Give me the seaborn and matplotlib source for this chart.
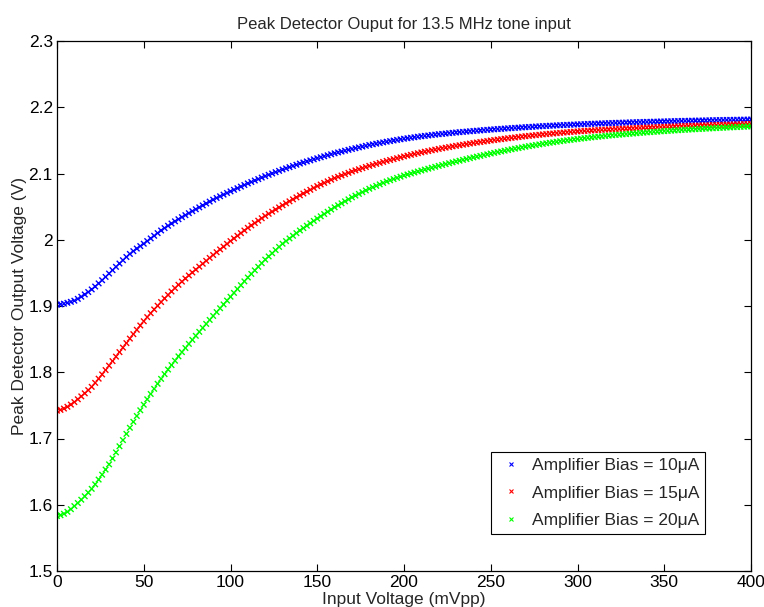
import numpy as np
import pandas as pd
import matplotlib
matplotlib.use("Agg")
import matplotlib.pyplot as plt
from matplotlib.lines import Line2D
import seaborn as sns

# Input amplitude sweep, 0 to 400 mVpp in 2 mV steps
input_mvpp = list(range(0, 401, 2))

# Peak detector output (V) for each amplifier bias current
bias_10uA = [
    1.902, 1.9025, 1.9035, 1.9048, 1.9063, 1.908,
    1.9108, 1.914, 1.9174, 1.9211, 1.925,
    1.9294, 1.9341, 1.9389, 1.9439, 1.949,
    1.9541, 1.9591, 1.9641, 1.9691, 1.974,
    1.9786, 1.9828, 1.9867, 1.9904, 1.994,
    1.998, 2.002, 2.006, 2.010, 2.014,
    2.0176, 2.0211, 2.0245, 2.0278, 2.031,
    2.0341, 2.0371, 2.0401, 2.0431, 2.046,
    2.0489, 2.0518, 2.0547, 2.0576, 2.0605,
    2.0631, 2.0656, 2.0681, 2.0706, 2.073,
    2.0754, 2.0778, 2.0802, 2.0826, 2.085,
    2.0872, 2.0894, 2.0916, 2.0938, 2.096,
    2.098, 2.100, 2.102, 2.104, 2.106,
    2.1078, 2.1096, 2.1114, 2.1132, 2.115,
    2.1166, 2.1182, 2.1198, 2.1214, 2.123,
    2.1245, 2.126, 2.1275, 2.129, 2.1305,
    2.1318, 2.1331, 2.1344, 2.1357, 2.137,
    2.1382, 2.1394, 2.1406, 2.1418, 2.143,
    2.144, 2.145, 2.146, 2.147, 2.148,
    2.1489, 2.1498, 2.1507, 2.1516, 2.1525,
    2.1532, 2.154, 2.1547, 2.1555, 2.1562,
    2.1568, 2.1574, 2.1581, 2.1587, 2.1593,
    2.1598, 2.1603, 2.1609, 2.1614, 2.1619,
    2.1624, 2.1628, 2.1633, 2.1637, 2.1642,
    2.1646, 2.165, 2.1655, 2.1659, 2.1663,
    2.1667, 2.1671, 2.1674, 2.1678, 2.1682,
    2.1685, 2.1689, 2.1692, 2.1696, 2.1699,
    2.1702, 2.1705, 2.1709, 2.1712, 2.1715,
    2.1718, 2.1721, 2.1723, 2.1726, 2.1729,
    2.1731, 2.1734, 2.1736, 2.1739, 2.1741,
    2.1743, 2.1745, 2.1748, 2.175, 2.1752,
    2.1754, 2.1756, 2.1758, 2.176, 2.1762,
    2.1764, 2.1766, 2.1767, 2.1769, 2.1771,
    2.1773, 2.1774, 2.1776, 2.1777, 2.1779,
    2.178, 2.1782, 2.1783, 2.1785, 2.1786,
    2.1787, 2.1789, 2.179, 2.1792, 2.1793,
    2.1794, 2.1795, 2.1797, 2.1798, 2.1799,
    2.18, 2.1801, 2.1803, 2.1804, 2.1805,
    2.1806, 2.1807, 2.1808, 2.1809, 2.181,
    2.1811, 2.1812, 2.1813, 2.1814, 2.1815,
]

bias_15uA = [
    1.742, 1.7432, 1.7452, 1.7479, 1.7512, 1.755,
    1.7592, 1.7636, 1.7682, 1.773, 1.778,
    1.784, 1.7903, 1.7967, 1.8033, 1.810,
    1.8168, 1.8236, 1.8304, 1.8372, 1.844,
    1.8508, 1.8575, 1.8641, 1.8706, 1.877,
    1.8832, 1.8891, 1.8948, 1.9004, 1.906,
    1.9114, 1.9167, 1.9219, 1.927, 1.932,
    1.9368, 1.9415, 1.9461, 1.9506, 1.955,
    1.9594, 1.9638, 1.9682, 1.9726, 1.977,
    1.9812, 1.9854, 1.9896, 1.9938, 1.998,
    2.002, 2.006, 2.010, 2.014, 2.018,
    2.0216, 2.0252, 2.0288, 2.0324, 2.036,
    2.0392, 2.0424, 2.0456, 2.0488, 2.052,
    2.055, 2.058, 2.061, 2.064, 2.067,
    2.0698, 2.0726, 2.0754, 2.0782, 2.081,
    2.0834, 2.0858, 2.0882, 2.0906, 2.093,
    2.095, 2.097, 2.099, 2.101, 2.103,
    2.1047, 2.1064, 2.1081, 2.1098, 2.1115,
    2.113, 2.1145, 2.116, 2.1175, 2.119,
    2.1204, 2.1217, 2.1231, 2.1244, 2.1258,
    2.127, 2.1282, 2.1294, 2.1306, 2.1318,
    2.1329, 2.1339, 2.135, 2.136, 2.1371,
    2.1381, 2.139, 2.1399, 2.1409, 2.1418,
    2.1426, 2.1435, 2.1443, 2.1452, 2.146,
    2.1468, 2.1475, 2.1483, 2.149, 2.1498,
    2.1505, 2.1512, 2.1518, 2.1525, 2.1532,
    2.1538, 2.1544, 2.1551, 2.1557, 2.1563,
    2.1568, 2.1574, 2.1579, 2.1585, 2.159,
    2.1595, 2.16, 2.1604, 2.1609, 2.1614,
    2.1618, 2.1622, 2.1627, 2.1631, 2.1635,
    2.1639, 2.1642, 2.1646, 2.1649, 2.1653,
    2.1656, 2.1659, 2.1662, 2.1665, 2.1668,
    2.1671, 2.1673, 2.1676, 2.1678, 2.1681,
    2.1683, 2.1686, 2.1688, 2.1691, 2.1693,
    2.1695, 2.1697, 2.1699, 2.1702, 2.1704,
    2.1706, 2.1708, 2.171, 2.1712, 2.1714,
    2.1716, 2.1718, 2.1719, 2.1721, 2.1723,
    2.1725, 2.1727, 2.1728, 2.173, 2.1732,
    2.1734, 2.1735, 2.1737, 2.1738, 2.174,
    2.1742, 2.1743, 2.1745, 2.1746, 2.1748,
]

bias_20uA = [
    1.583, 1.5842, 1.5864, 1.5894, 1.5933, 1.598,
    1.6026, 1.6076, 1.6128, 1.6183, 1.624,
    1.6308, 1.638, 1.6454, 1.6531, 1.661,
    1.6699, 1.679, 1.6883, 1.6976, 1.707,
    1.7162, 1.7252, 1.734, 1.7426, 1.751,
    1.7592, 1.7672, 1.775, 1.7826, 1.790,
    1.7972, 1.8041, 1.8108, 1.8174, 1.824,
    1.8304, 1.8366, 1.8428, 1.8489, 1.855,
    1.861, 1.867, 1.873, 1.879, 1.885,
    1.8908, 1.8966, 1.9024, 1.9082, 1.914,
    1.9198, 1.9256, 1.9314, 1.9372, 1.943,
    1.9484, 1.9538, 1.9592, 1.9646, 1.970,
    1.9748, 1.9796, 1.9844, 1.9892, 1.994,
    1.998, 2.002, 2.006, 2.010, 2.014,
    2.0176, 2.0212, 2.0248, 2.0284, 2.032,
    2.0354, 2.0388, 2.0422, 2.0456, 2.049,
    2.052, 2.055, 2.058, 2.061, 2.064,
    2.0666, 2.0692, 2.0718, 2.0744, 2.077,
    2.0792, 2.0814, 2.0836, 2.0858, 2.088,
    2.0898, 2.0916, 2.0934, 2.0952, 2.097,
    2.0985, 2.1, 2.1015, 2.103, 2.1045,
    2.1059, 2.1073, 2.1087, 2.1101, 2.1115,
    2.1128, 2.1141, 2.1155, 2.1168, 2.1181,
    2.1193, 2.1206, 2.1218, 2.1231, 2.1243,
    2.1255, 2.1266, 2.1278, 2.1289, 2.1301,
    2.1312, 2.1323, 2.1333, 2.1344, 2.1355,
    2.1365, 2.1375, 2.1384, 2.1394, 2.1404,
    2.1413, 2.1422, 2.143, 2.1439, 2.1448,
    2.1456, 2.1464, 2.1471, 2.1479, 2.1487,
    2.1494, 2.1501, 2.1507, 2.1514, 2.1521,
    2.1527, 2.1533, 2.1539, 2.1545, 2.1551,
    2.1556, 2.1561, 2.1567, 2.1572, 2.1577,
    2.1582, 2.1586, 2.1591, 2.1595, 2.16,
    2.1604, 2.1608, 2.1613, 2.1617, 2.1621,
    2.1625, 2.1629, 2.1632, 2.1636, 2.164,
    2.1643, 2.1647, 2.165, 2.1654, 2.1657,
    2.166, 2.1663, 2.1666, 2.1669, 2.1672,
    2.1675, 2.1678, 2.168, 2.1683, 2.1686,
    2.1689, 2.1691, 2.1694, 2.1696, 2.1699,
    2.1701, 2.1704, 2.1706, 2.1709, 2.1711,
]

series_labels = ["Amplifier Bias = 10μA", "Amplifier Bias = 15μA", "Amplifier Bias = 20μA"]
series_colors = ["#0000ff", "#ff0000", "#00ff00"]

x_ticks = [0, 50, 100, 150, 200, 250, 300, 350, 400]
y_ticks = [1.5, 1.6, 1.7, 1.8, 1.9, 2.0, 2.1, 2.2, 2.3]
y_tick_labels = ["1.5", "1.6", "1.7", "1.8", "1.9", "2", "2.1", "2.2", "2.3"]

# Long-form table for seaborn
frames = []
for label, values in zip(series_labels, [bias_10uA, bias_15uA, bias_20uA]):
    frames.append(pd.DataFrame({"input": input_mvpp, "output": values, "bias": label}))
df = pd.concat(frames, ignore_index=True)

sns.set_style("ticks")
plt.rcParams["font.family"] = ["Liberation Sans", "DejaVu Sans"]
plt.rcParams["font.size"] = 12

fig = plt.figure(figsize=(7.64, 6.07), dpi=100)
ax = fig.add_axes([57 / 764, 1 - 571 / 607, (751 - 57) / 764, (571 - 41) / 607])

sns.scatterplot(
    data=df, x="input", y="output", hue="bias",
    hue_order=series_labels, palette=series_colors,
    marker="x", s=16, linewidth=1.0, ax=ax, legend=False,
)

ax.set_xlim(0, 400)
ax.set_ylim(1.5, 2.3)
ax.set_xticks(x_ticks)
ax.set_xticklabels([str(t) for t in x_ticks])
ax.set_yticks(y_ticks)
ax.set_yticklabels(y_tick_labels)
ax.tick_params(direction="in", length=5, width=0.8, top=True, right=True,
               labelsize=12.5, colors="black", pad=3)
for side in ["top", "right", "bottom", "left"]:
    ax.spines[side].set_visible(True)
    ax.spines[side].set_color("black")
    ax.spines[side].set_linewidth(0.9)

ax.set_title("Peak Detector Ouput for 13.5 MHz tone input", fontsize=12, pad=9)
ax.set_xlabel("Input Voltage (mVpp)", fontsize=12.5)
ax.set_ylabel("Peak Detector Output Voltage (V)", fontsize=12.5)
ax.xaxis.set_label_coords(0.5, -0.039)
ax.yaxis.set_label_coords(-0.043, 0.5)

handles = [
    Line2D([], [], linestyle="none", marker="x", markersize=3, markeredgewidth=0.8,
           color=c) for c in series_colors
]
leg = ax.legend(
    handles, series_labels, loc="lower right", bbox_to_anchor=(0.934, 0.07),
    borderaxespad=0, frameon=True, fancybox=False, edgecolor="black",
    framealpha=1, fontsize=12.5, handlelength=1.6, handletextpad=0.41,
    labelspacing=0.7, borderpad=0.35,
)
leg.get_frame().set_linewidth(0.8)

fig.savefig("out.png", dpi=100)
